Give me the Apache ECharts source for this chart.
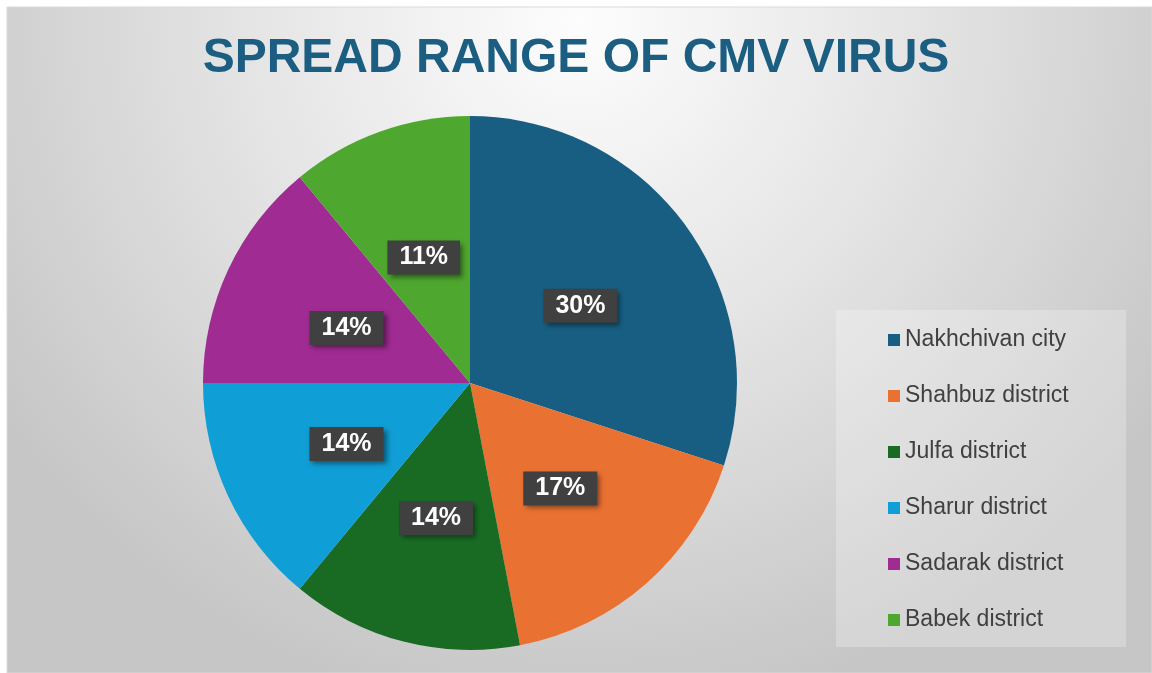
<!DOCTYPE html>
<html><head><meta charset="utf-8">
<script src="https://cdn.jsdelivr.net/npm/echarts@6/dist/echarts.min.js"></script>
<style>html,body{margin:0;padding:0;background:#fff;}#c{width:1152px;height:673px;}</style>
</head><body><div id="c"></div>
<script>
const titleText = 'SPREAD RANGE OF CMV VIRUS';
const categories = ['Nakhchivan city','Shahbuz district','Julfa district','Sharur district','Sadarak district','Babek district'];
const values = [30, 17, 14, 14, 14, 11];
const colors = ['#175E82','#E97132','#196B24','#0F9ED5','#A02B93','#4EA72E'];

const chart = echarts.init(document.getElementById('c'));
chart.setOption({
  animation:false,
  color: colors,
  graphic:[
    {type:'rect', z:-10, shape:{x:7,y:7,width:1145,height:666},
     style:{fill:{type:'radial',x:0.5,y:0.02,r:1.05,colorStops:[{offset:0,color:'#fdfdfd'},{offset:0.45,color:'#e6e6e6'},{offset:1,color:'#c6c6c6'}]}, stroke:'#d9d9d9', lineWidth:1}},
    {type:'rect', z:-5, shape:{x:836,y:310,width:290,height:337},
     style:{fill:'rgba(255,255,255,0.25)'}}
  ],
  title:{text:titleText, left:'center', top:30, textStyle:{fontFamily:'Liberation Sans, Arial', fontWeight:'bold', fontSize:48, color:'#1B5E82'}},
  legend:{orient:'vertical', left:883, top:323, itemWidth:12, itemHeight:12, itemGap:32, icon:'rect',
    data: categories,
    textStyle:{fontFamily:'Liberation Sans, Arial', fontSize:23, color:'#404040', lineHeight:24}},
  series:[{
    type:'pie', center:[470,383], radius:267, startAngle:90, clockwise:true,
    data: categories.map((n,i)=>({name:n, value:values[i]})),
    label:{show:true, position:'inside', formatter:p=>p.value+'%', offset:[0,3],
      fontFamily:'Liberation Sans, Arial', fontWeight:'bold', fontSize:25, color:'#fff',
      backgroundColor:'#404040', padding:[5,12,4,12],
      shadowBlur:5, shadowOffsetX:3, shadowOffsetY:3, shadowColor:'rgba(0,0,0,0.45)'},
    labelLine:{show:false},
    itemStyle:{borderWidth:0},
    emphasis:{disabled:true}
  }]
});
</script></body></html>
